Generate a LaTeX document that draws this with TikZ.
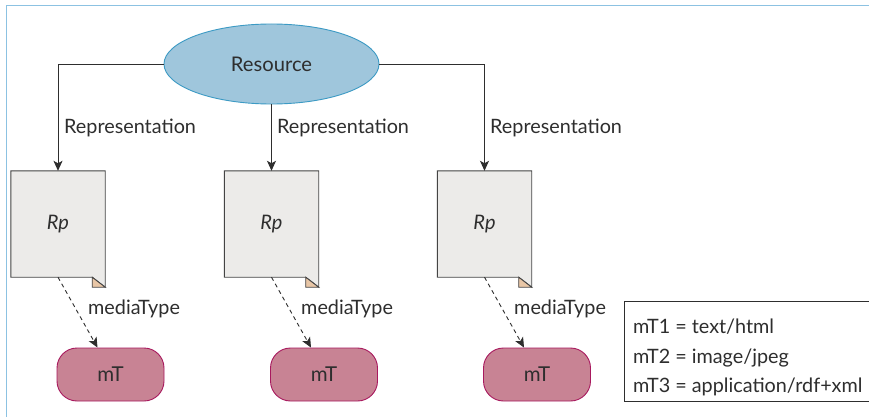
\documentclass[tikz,border=0pt]{standalone}
\usepackage{fontspec}
\setmainfont{Lato}
\usetikzlibrary{shapes.geometric,arrows.meta}
\definecolor{txt}{HTML}{2E2E2E}
\definecolor{frameblue}{HTML}{8CC2E2}
\definecolor{resfill}{HTML}{9FC6DC}
\definecolor{resdraw}{HTML}{3C9AC4}
\definecolor{docfill}{HTML}{ECEBE9}
\definecolor{docdraw}{HTML}{444444}
\definecolor{foldfill}{HTML}{E8C6A6}
\definecolor{mtfill}{HTML}{C88394}
\definecolor{mtdraw}{HTML}{A8195E}
\tikzset{
  lbl/.style={text=txt, font=\fontsize{19.8}{22}\selectfont, inner sep=0pt},
  resnode/.style={ellipse, fill=resfill, draw=resdraw, line width=0.9pt, minimum width=215pt, minimum height=80pt, inner sep=0pt, text=txt, font=\fontsize{20.2}{22}\selectfont},
  docnode/.style={rectangle, minimum width=94pt, minimum height=106pt, inner sep=0pt, text=txt, font=\itshape\fontsize{20}{22}\selectfont},
  mtnode/.style={rectangle, rounded corners=20pt, fill=mtfill, draw=mtdraw, line width=0.9pt, minimum width=107pt, minimum height=53pt, inner sep=0pt, text=txt, font=\fontsize{20.5}{22}\selectfont},
  conn/.style={draw=txt, line width=0.9pt, -{Stealth[length=10pt,width=9pt,inset=2.5pt]}},
  dconn/.style={draw=txt, line width=0.9pt, dash pattern=on 4pt off 3.5pt, -{Stealth[length=10pt,width=9pt,inset=2.5pt]}},
}
\newcommand{\docshape}[1]{%
  \fill[docfill] (#1.north west) -- (#1.north east) -- ([yshift=-10pt]#1.south east) -- ([xshift=-13pt]#1.south east) -- (#1.south west) -- cycle;
  \draw[docdraw, line width=0.9pt, line join=miter] (#1.north west) -- (#1.north east) -- ([yshift=-10pt]#1.south east) -- ([xshift=-13pt]#1.south east) -- (#1.south west) -- cycle;
  \draw[docdraw, line width=0.9pt, fill=foldfill] ([xshift=-13pt]#1.south east) -- ([xshift=-13pt,yshift=-10pt]#1.south east) -- ([yshift=-10pt]#1.south east) -- cycle;
}
\begin{document}
\begin{tikzpicture}[x=1pt,y=-1pt]
\useasboundingbox (0,0) rectangle (869,417);
\clip (0,0) rectangle (869,417);
\fill[white] (0,0) rectangle (869,417);
% frame
\draw[frameblue, line width=1.2pt] (6.5,420) -- (6.5,5.5) -- (875,5.5);

\node[resnode] (res) at (271.5,64) {Resource};

\node[docnode] (d1) at (58,224) {};
\node[docnode] (d2) at (271.5,224) {};
\node[docnode] (d3) at (484.5,224) {};
\docshape{d1}
\docshape{d2}
\docshape{d3}
\node[docnode] (p1) at (58,224) {Rp};
\node[docnode] (p2) at (271.5,224) {Rp};
\node[docnode] (p3) at (484.5,224) {Rp};

\node[mtnode] (m1) at (110.5,374.5) {mT};
\node[mtnode] (m2) at (324,374.5) {mT};
\node[mtnode] (m3) at (537,374.5) {mT};

\draw[conn] (res.west) -| (d1.north);
\draw[conn] (res.south) -- (d2.north);
\draw[conn] (res.east) -| (d3.north);

\node[lbl, anchor=west] (r1) at (64,128) {Representation};
\node[lbl, anchor=west] (r2) at (277,128) {Representation};
\node[lbl, anchor=west] (r3) at (490,128) {Representation};

\draw[dconn] (d1.south) -- ([xshift=-13pt]m1.north);
\draw[dconn] (d2.south) -- ([xshift=-13pt]m2.north);
\draw[dconn] (d3.south) -- ([xshift=-13pt]m3.north);

\node[lbl, anchor=west] (t1) at (88,309) {mediaType};
\node[lbl, anchor=west] (t2) at (301,309) {mediaType};
\node[lbl, anchor=west] (t3) at (514,309) {mediaType};

% legend
\node[draw=txt, line width=0.9pt, rectangle, minimum width=260pt, minimum height=100pt, anchor=north west, inner sep=0pt] (leg) at (624,301) {};
\node[lbl, anchor=west] (l1) at (633,327) {mT1 = text/html};
\node[lbl, anchor=west] (l2) at (633,358) {mT2 = image/jpeg};
\node[lbl, anchor=west] (l3) at (633,387) {mT3 = application/rdf+xml};
\end{tikzpicture}
\end{document}
